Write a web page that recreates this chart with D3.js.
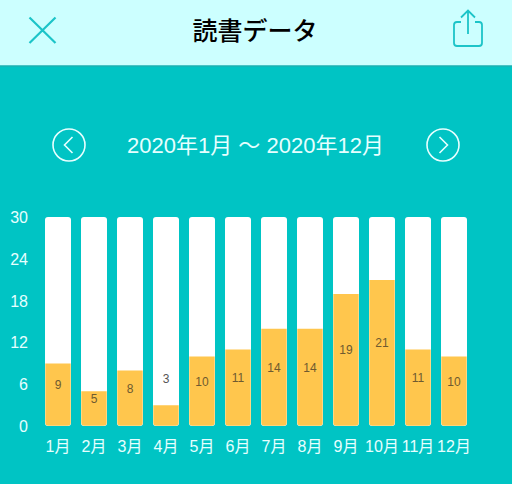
<!DOCTYPE html>
<html>
<head>
<meta charset="utf-8">
<style>
html, body { margin: 0; padding: 0; background: #00c4c4; }
svg { display: block; }
text { font-family: "Liberation Sans", "Noto Sans CJK JP", sans-serif; }
</style>
</head>
<body>
<svg id="mainsvg" width="512" height="484"></svg>
<script src="https://d3js.org/d3.v7.min.js"></script>
<script>
const months = ["1月","2月","3月","4月","5月","6月","7月","8月","9月","10月","11月","12月"];
const counts = [9,5,8,3,10,11,14,14,19,21,11,10];
const yTicks = [0,6,12,18,24,30];
const title = "読書データ";
const range = "2020年1月 〜 2020年12月";

const teal = "#00c4c4", headerBg = "#ccffff", iconCol = "#1cc4c8", barCol = "#ffc64d", pale = "#e6ffff";

const svg = d3.select("#mainsvg");

// header
svg.append("rect").attr("width", 512).attr("height", 484).attr("fill", teal);
svg.append("rect").attr("width", 512).attr("height", 65.5).attr("fill", headerBg);
svg.append("line").attr("x1", 0).attr("x2", 512).attr("y1", 66).attr("y2", 66)
  .attr("stroke", "#2aa5a8").attr("stroke-width", 1);
svg.append("text").attr("x", 255).attr("y", 40).attr("text-anchor", "middle")
  .attr("font-size", 25).attr("font-weight", 500).attr("fill", "#000")
  .style("font-family", "'Noto Sans CJK JP'").text(title);

svg.append("path").attr("d", "M29.5 17.5L55.5 43M55.5 17.5L29.5 43")
  .attr("fill", "none").attr("stroke", iconCol).attr("stroke-width", 2.2);
svg.append("path")
  .attr("d", "M461 22h-4a3 3 0 0 0-3 3v18a3 3 0 0 0 3 3h22a3 3 0 0 0 3-3v-18a3 3 0 0 0-3-3h-4M468 34V11M461 17.5L468 10.5L475 17.5")
  .attr("fill", "none").attr("stroke", iconCol).attr("stroke-width", 1.8);

// range selector
svg.append("text").attr("x", 255.5).attr("y", 153).attr("text-anchor", "middle")
  .attr("font-size", 22).attr("fill", pale).text(range);
[[69, "M72.5 137L64.5 145L72.5 153"], [443, "M439.5 137L447.5 145L439.5 153"]].forEach(([cx, d]) => {
  svg.append("circle").attr("cx", cx).attr("cy", 145).attr("r", 16)
    .attr("fill", "none").attr("stroke", pale).attr("stroke-width", 1.6);
  svg.append("path").attr("d", d).attr("fill", "none").attr("stroke", pale).attr("stroke-width", 1.6);
});

// chart
const x = d3.scaleBand().domain(months).range([40, 472]).paddingInner(10 / 36).paddingOuter(5 / 36);
const y = d3.scaleLinear().domain([0, 30]).range([426, 217.5]);

const yAxis = svg.append("g").attr("transform", "translate(28,0)")
  .call(d3.axisLeft(y).tickValues(yTicks).tickSize(0).tickPadding(0));
yAxis.select(".domain").remove();
yAxis.selectAll("text").attr("font-size", 16).attr("fill", pale);

const xAxis = svg.append("g").attr("transform", "translate(0,441)")
  .call(d3.axisBottom(x).tickSize(0).tickPadding(0));
xAxis.select(".domain").remove();
xAxis.selectAll("text").attr("font-size", 16).attr("fill", pale);

const bar = svg.append("g").selectAll("g").data(months).enter().append("g");

bar.append("rect")
  .attr("x", d => x(d)).attr("y", y(30) - 0.5)
  .attr("width", x.bandwidth()).attr("height", y(0) - y(30) + 0.5)
  .attr("rx", 3).attr("fill", "#fff");

// orange part follows the rounded bottom of the bar
bar.append("path")
  .attr("fill", barCol)
  .attr("d", (d, i) => {
    const l = x(d) + 0.3, r = x(d) + x.bandwidth() - 0.3, t = y(counts[i]), b = y(0) - 0.2;
    return `M${l} ${t}H${r}V${b - 3}Q${r} ${b} ${r - 3} ${b}H${l + 3}Q${l} ${b} ${l} ${b - 3}Z`;
  });

bar.append("text")
  .attr("x", d => x(d) + x.bandwidth() / 2)
  .attr("y", (d, i) => counts[i] < 5 ? y(counts[i]) - 26 : y(counts[i] / 2) - 10)
  .attr("dy", "0.36em")
  .attr("text-anchor", "middle").attr("font-size", 12)
  .attr("fill", (d, i) => counts[i] < 5 ? "#555" : "#6e5a30")
  .text((d, i) => counts[i]);
</script>
</body>
</html>
